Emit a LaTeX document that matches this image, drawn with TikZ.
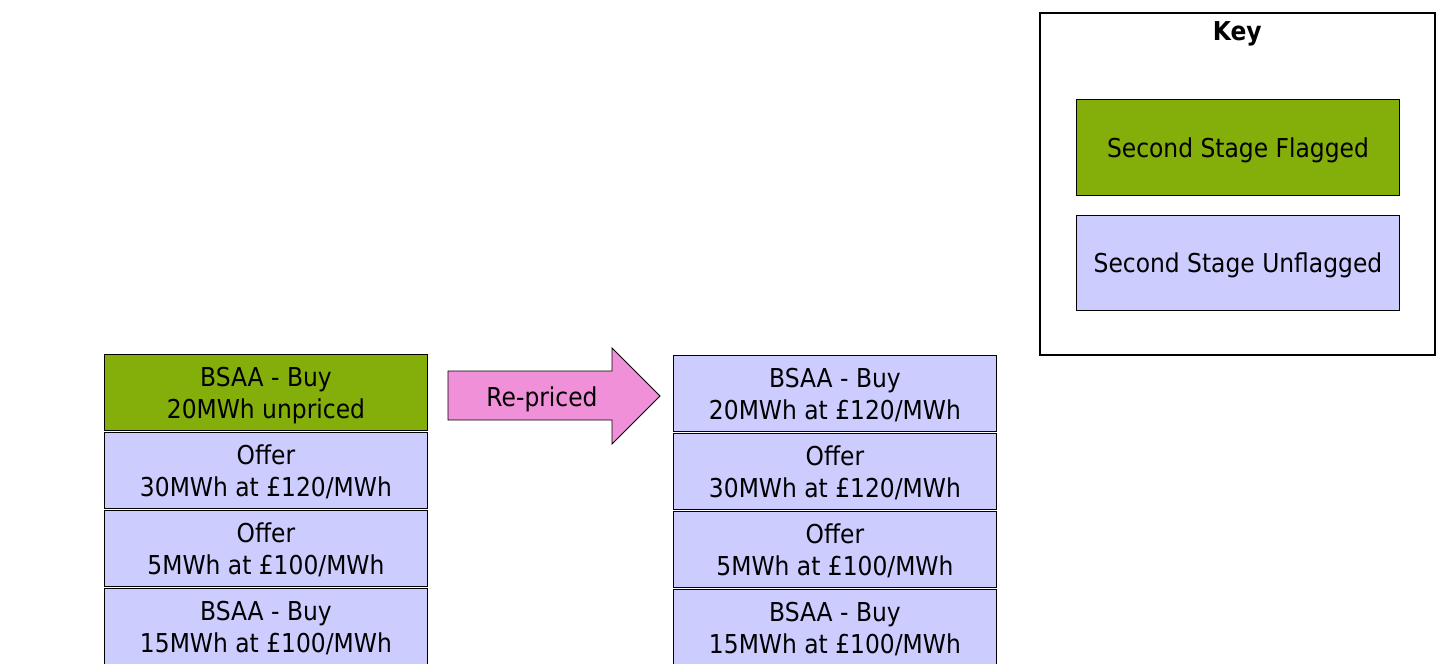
\documentclass[tikz,border=0pt]{standalone}
\usepackage{fontspec}
\setmainfont{DejaVu Sans}[FakeStretch=0.9]
\usetikzlibrary{positioning}

\definecolor{flaggreen}{RGB}{132,174,10}
\definecolor{unflagblue}{RGB}{204,204,255}
\definecolor{arrowpink}{RGB}{240,144,216}

% two centred lines with fixed first-line height and last-line depth
\newcommand{\bidlines}[2]{\rule{0pt}{27pt}#1\\#2\rule[-7pt]{0pt}{7pt}}

\tikzset{
    oneline/.style={
        execute at begin node={\rule{0pt}{27pt}},
        execute at end node={\rule[-7pt]{0pt}{7pt}}},
    bid/.style={draw, line width=0.9pt, minimum width=323pt, minimum height=76pt,
        inner sep=0pt, align=center, anchor=north west,
        font=\fontsize{26}{31.5}\selectfont},
    flagged/.style={bid, fill=flaggreen},
    unflagged/.style={bid, fill=unflagblue}
}

\begin{document}
\begin{tikzpicture}[x=1pt,y=-1pt]
    % \draw[help lines,step=50] (0,0) grid (1441,664);
    \useasboundingbox (0,0) rectangle (1441,664);

    % before re-pricing
    \node[flagged]   (before1) at (104,354) {\bidlines{BSAA - Buy}{20MWh unpriced}};
    \node[unflagged] (before2) at (104,432) {\bidlines{Offer}{30MWh at £120/MWh}};
    \node[unflagged] (before3) at (104,510) {\bidlines{Offer}{5MWh at £100/MWh}};
    \node[unflagged] (before4) at (104,588) {\bidlines{BSAA - Buy}{15MWh at £100/MWh}};

    % after re-pricing
    \node[unflagged] (after1) at (673,355) {\bidlines{BSAA - Buy}{20MWh at £120/MWh}};
    \node[unflagged] (after2) at (673,433) {\bidlines{Offer}{30MWh at £120/MWh}};
    \node[unflagged] (after3) at (673,511) {\bidlines{Offer}{5MWh at £100/MWh}};
    \node[unflagged] (after4) at (673,589) {\bidlines{BSAA - Buy}{15MWh at £100/MWh}};

    % block arrow
    \draw[fill=arrowpink, line width=0.9pt] (448,371) -- (612,371) -- (612,348)
        -- (660,396) -- (612,444) -- (612,420) -- (448,420) -- cycle;
    \node[oneline, font=\fontsize{26}{31.5}\selectfont, inner sep=0pt] (repriced) at (542,396) {Re-priced};

    % key
    \node[draw, line width=1.6pt, minimum width=395pt, minimum height=342pt,
        anchor=north west] (key) at (1039,12) {};
    \node[font=\fontsize{26}{31.5}\selectfont\bfseries, below=6pt of key.north] (keytitle) {Key};
    \node[flagged, oneline, minimum height=96pt] (keyflag) at (1076,99) {Second Stage Flagged};
    \node[unflagged, oneline, minimum height=95pt] (keyunflag) at (1076,215) {Second Stage Unflagged};

\end{tikzpicture}
\end{document}
